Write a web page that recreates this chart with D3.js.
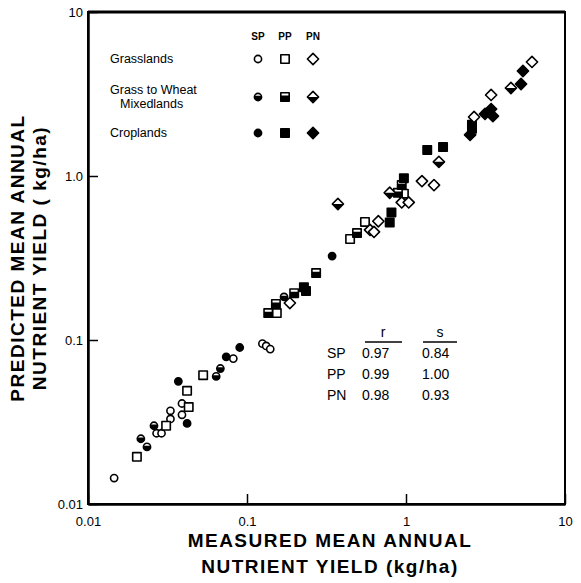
<!DOCTYPE html>
<html>
<head>
<meta charset="utf-8">
<script src="https://cdn.jsdelivr.net/npm/d3@7"></script>
<style>
  body { margin: 0; background: #fff; }
  text { font-family: "Liberation Sans", Arial, sans-serif; fill: #000; }
</style>
</head>
<body>
<svg id="chart" width="581" height="583"></svg>
<script>
// [measured, predicted] in kg/ha
const grassSP = [[0.0146, 0.0144], [0.027, 0.027], [0.029, 0.027], [0.033, 0.037], [0.033, 0.033],
  [0.039, 0.035], [0.039, 0.041], [0.082, 0.077], [0.125, 0.095], [0.132, 0.092], [0.14, 0.088]];
const mixedSP = [[0.0215, 0.025], [0.0235, 0.0223], [0.026, 0.03], [0.064, 0.06], [0.068, 0.067], [0.171, 0.183]];
const cropSP = [[0.037, 0.056], [0.042, 0.031], [0.074, 0.079], [0.09, 0.09], [0.343, 0.325]];

const grassPP = [[0.0203, 0.0194], [0.031, 0.03], [0.042, 0.049], [0.043, 0.039], [0.053, 0.061],
  [0.154, 0.146], [0.445, 0.413], [0.552, 0.525], [0.97, 0.78]];
const mixedPP = [[0.136, 0.146], [0.152, 0.166], [0.198, 0.193], [0.272, 0.256], [0.492, 0.449],
  [0.89, 0.79], [0.94, 0.88]];
const cropPP = [[0.228, 0.21], [0.235, 0.199], [0.79, 0.52], [0.81, 0.6], [0.97, 0.97],
  [1.36, 1.44], [1.71, 1.5], [2.6, 2.05], [2.6, 1.94]];

const grassPN = [[0.186, 0.168], [0.594, 0.469], [0.629, 0.456], [0.67, 0.53], [0.94, 0.69], [1.04, 0.69],
  [1.26, 0.93], [1.5, 0.88], [2.68, 2.29], [3.43, 3.12], [6.2, 4.96]];
const mixedPN = [[0.373, 0.675], [0.79, 0.79], [1.61, 1.22], [4.57, 3.44]];
const cropPN = [[2.53, 1.78], [3.14, 2.39], [3.43, 2.56], [3.52, 2.32], [5.29, 3.64], [5.44, 4.37]];

const tickValues = [0.01, 0.1, 1, 10];
const xTickLabels = ["0.01", "0.1", "1", "10"];
const yTickLabels = ["0.01", "0.1", "1.0", "10"];

const landLabels = [["Grasslands"], ["Grass to Wheat", "Mixedlands"], ["Croplands"]];
const nutrients = ["SP", "PP", "PN"];
const statR = ["0.97", "0.99", "0.98"];
const statS = ["0.84", "1.00", "0.93"];

const series = [
  { data: grassSP, shape: "circle", fill: "open" },
  { data: mixedSP, shape: "circle", fill: "half" },
  { data: cropSP, shape: "circle", fill: "solid" },
  { data: grassPP, shape: "square", fill: "open" },
  { data: mixedPP, shape: "square", fill: "half" },
  { data: cropPP, shape: "square", fill: "solid" },
  { data: grassPN, shape: "diamond", fill: "open" },
  { data: mixedPN, shape: "diamond", fill: "half" },
  { data: cropPN, shape: "diamond", fill: "solid" }
];

const svg = d3.select("#chart");
const plotL = 88, plotR = 565, plotT = 12, plotB = 504;

const x = d3.scaleLog().domain([0.01, 10]).range([plotL, plotR]);
const y = d3.scaleLog().domain([0.01, 10]).range([plotB, plotT]);

const shapePath = {
  circle: "M0,-3.6A3.6,3.6 0 1,1 0,3.6A3.6,3.6 0 1,1 0,-3.6Z",
  square: "M-4.2,-4.2H4.2V4.2H-4.2Z",
  diamond: "M0,-5.6L5.6,0L0,5.6L-5.6,0Z"
};
// lower part that is blacked out for the "grass to wheat" symbols
const halfClip = { circle: -1.2, square: -1.4, diamond: 0 };

const defs = svg.append("defs");
Object.keys(halfClip).forEach(k => {
  defs.append("clipPath").attr("id", "half-" + k)
    .append("rect").attr("x", -10).attr("y", halfClip[k]).attr("width", 20).attr("height", 20);
});

const drawSymbol = (g, shape, fill) => {
  g.append("path")
    .attr("d", shapePath[shape])
    .attr("fill", fill === "solid" ? "#000" : "#fff")
    .attr("stroke", "#000")
    .attr("stroke-width", 1.6)
    .attr("stroke-linejoin", "round");
  if (fill === "half") {
    g.append("path")
      .attr("d", shapePath[shape])
      .attr("fill", "#000")
      .attr("clip-path", "url(#half-" + shape + ")");
  }
};

// frame
svg.append("rect")
  .attr("x", plotL).attr("y", plotT)
  .attr("width", plotR - plotL).attr("height", plotB - plotT)
  .attr("fill", "none").attr("stroke", "#000").attr("stroke-width", 2);
svg.append("line")
  .attr("x1", plotL).attr("x2", plotR).attr("y1", plotT).attr("y2", plotT)
  .attr("stroke", "#000").attr("stroke-width", 3);

// axes
const yAxis = d3.axisLeft(y)
  .tickValues(tickValues)
  .tickFormat((d, i) => yTickLabels[i])
  .tickSizeInner(-10).tickSizeOuter(0).tickPadding(5);
const yg = svg.append("g").attr("transform", `translate(${plotL},0)`).call(yAxis);

const xAxis = d3.axisBottom(x)
  .tickValues(tickValues)
  .tickFormat((d, i) => xTickLabels[i])
  .tickSizeInner(-10).tickSizeOuter(0).tickPadding(6);
const xg = svg.append("g").attr("transform", `translate(0,${plotB})`).call(xAxis);

[yg, xg].forEach(g => {
  g.select(".domain").attr("stroke-width", 2.5);
  g.selectAll(".tick line").attr("stroke-width", 1.5);
  g.selectAll(".tick text").attr("font-size", 13).attr("font-family", "Liberation Sans, Arial, sans-serif");
});
xg.selectAll(".tick text").attr("dy", "1.2em");

// points
series.forEach(s => {
  s.data.forEach(d => {
    const g = svg.append("g").attr("transform", `translate(${x(d[0])},${y(d[1])})`);
    drawSymbol(g, s.shape, s.fill);
  });
});

// legend
const legendCols = [258, 285, 313];
const legendRows = [59, 97, 133];
const shapes = ["circle", "square", "diamond"];
const fills = ["open", "half", "solid"];

svg.selectAll(".legend-head").data(nutrients).enter().append("text")
  .attr("x", (d, i) => legendCols[i]).attr("y", 40)
  .attr("text-anchor", "middle").attr("font-size", 10).attr("font-weight", "bold")
  .text(d => d);

landLabels.forEach((lines, r) => {
  lines.forEach((line, j) => {
    svg.append("text")
      .attr("font-size", 12.5)
      .attr("x", j ? 120 : 110)
      .attr("y", legendRows[r] + 4 - (lines.length - 1) * 7 + j * 14)
      .text(line);
  });
  shapes.forEach((sh, c) => {
    const g = svg.append("g").attr("transform", `translate(${legendCols[c]},${legendRows[r]})`);
    drawSymbol(g, sh, fills[r]);
  });
});

// r / s table
const tab = svg.append("g").attr("font-size", 14);
tab.append("text").attr("x", 383).attr("y", 337).attr("text-anchor", "middle").text("r");
tab.append("text").attr("x", 440).attr("y", 337).attr("text-anchor", "middle").text("s");
tab.append("line").attr("x1", 365).attr("x2", 402).attr("y1", 342).attr("y2", 342).attr("stroke", "#000").attr("stroke-width", 1.5);
tab.append("line").attr("x1", 423).attr("x2", 457).attr("y1", 342).attr("y2", 342).attr("stroke", "#000").attr("stroke-width", 1.5);
nutrients.forEach((n, i) => {
  const yy = 358 + i * 21;
  tab.append("text").attr("x", 327).attr("y", yy).text(n);
  tab.append("text").attr("x", 362).attr("y", yy).text(statR[i]);
  tab.append("text").attr("x", 422).attr("y", yy).text(statS[i]);
});

// axis titles
const titleFont = "Liberation Sans, Arial, sans-serif";
const yt = svg.append("text")
  .attr("transform", `translate(24,${(plotT + plotB) / 2}) rotate(-90)`)
  .attr("text-anchor", "middle").attr("font-size", 19).attr("font-weight", "bold")
  .attr("font-family", titleFont).attr("letter-spacing", 1.5);
yt.append("tspan").attr("x", 0).attr("y", 0).text("PREDICTED MEAN ANNUAL");
yt.append("tspan").attr("x", 0).attr("y", 22).text("NUTRIENT YIELD ( kg/ha)");

const xt = svg.append("text")
  .attr("text-anchor", "middle").attr("font-size", 19).attr("font-weight", "bold")
  .attr("font-family", titleFont).attr("letter-spacing", 1.5);
xt.append("tspan").attr("x", 330).attr("y", 547).text("MEASURED MEAN ANNUAL");
xt.append("tspan").attr("x", 330).attr("y", 573).text("NUTRIENT YIELD (kg/ha)");
</script>
</body>
</html>
